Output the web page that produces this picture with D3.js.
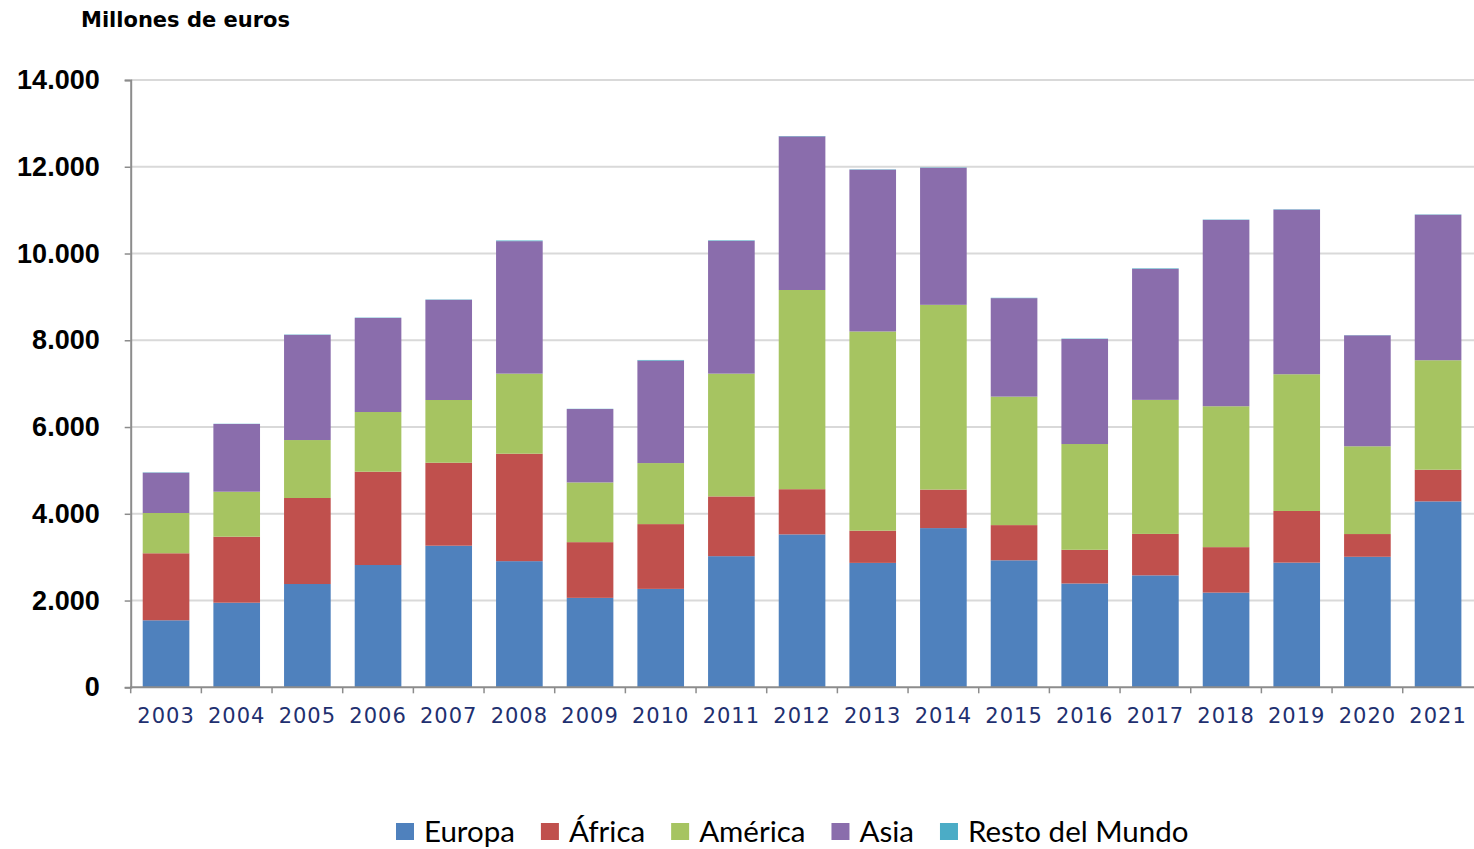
<!DOCTYPE html>
<html lang="es">
<head>
<meta charset="UTF-8">
<title>Millones de euros por región</title>
<script src="https://cdn.jsdelivr.net/npm/d3@7/dist/d3.min.js"></script>
<style>
  body { margin: 0; background: #fff; }
</style>
</head>
<body>
<script>
// data (millones de euros)
var years   = ["2003","2004","2005","2006","2007","2008","2009","2010","2011","2012",
               "2013","2014","2015","2016","2017","2018","2019","2020","2021"];
var europa  = [1545,1950,2381,2819,3264,2908,2062,2269,3023,3525,2868,3670,2928,2393,2581,2183,2874,3009,4286];
var africa  = [1545,1522,1983,2151,1913,2477,1284,1493,1377,1042, 743, 888, 811, 777, 955,1048,1191, 524, 730];
var america = [ 928,1037,1336,1376,1446,1846,1377,1407,2831,4592,4592,4259,2962,2438,3090,3248,3152,2023,2524];
var asia    = [ 929,1561,2424,2168,2309,3054,1692,2362,3061,3542,3730,3159,2270,2422,3020,4295,3795,2558,3353];
var resto   = [   8,   5,   8,   8,   8,  15,   5,  15,  12,   8,   8,   8,   8,   8,  12,   8,   8,   5,   8];
var seriesNames = ["Europa","África","América","Asia","Resto del Mundo"];
var yTicks = [0,2000,4000,6000,8000,10000,12000,14000];

var colors = ["#4f81bd","#c0504d","#a6c461","#8a6dac","#4bacc6"];
var keys = ["europa","africa","america","asia","resto"];

var rows = years.map(function(y, i) {
  return { year: y, europa: europa[i], africa: africa[i], america: america[i], asia: asia[i], resto: resto[i] };
});

var W = 1474, H = 849;
var svg = d3.select("body").append("svg")
  .attr("width", W).attr("height", H);

var x = d3.scaleBand()
  .domain(years)
  .range([130.7, 1473.4])
  .paddingInner(0.34)
  .paddingOuter(0.17);

var y = d3.scaleLinear()
  .domain([0, 14000])
  .range([687.3, 80]);

// gridlines
svg.append("g")
  .selectAll("line")
  .data(yTicks.slice(1))
  .enter().append("line")
  .attr("x1", 131).attr("x2", W)
  .attr("y1", function(d){ return y(d); })
  .attr("y2", function(d){ return y(d); })
  .attr("stroke", "#d9d9d9")
  .attr("stroke-width", 2);

// stacked bars
var stack = d3.stack().keys(keys)(rows);
svg.append("g")
  .selectAll("g")
  .data(stack)
  .enter().append("g")
  .attr("fill", function(d, i){ return colors[i]; })
  .selectAll("rect")
  .data(function(d){ return d; })
  .enter().append("rect")
  .attr("x", function(d){ return x(d.data.year); })
  .attr("width", x.bandwidth())
  .attr("y", function(d){ return y(d[1]); })
  .attr("height", function(d){ return y(d[0]) - y(d[1]); });

// y axis
var yAxis = d3.axisLeft(y)
  .tickValues(yTicks)
  .tickSize(6)
  .tickPadding(25)
  .tickFormat(function(d){ return d3.format(",")(d).replace(/,/g, "."); });

var gy = svg.append("g")
  .attr("transform", "translate(130.7,0)")
  .call(yAxis);
gy.select(".domain").attr("stroke", "#8c8c8c").attr("stroke-width", 2);
gy.selectAll(".tick line").attr("stroke", "#8c8c8c").attr("stroke-width", 1.5);
gy.selectAll(".tick text")
  .attr("fill", "#000")
  .style("font-family", "'Liberation Sans', Arial, sans-serif")
  .style("font-weight", "bold")
  .style("font-size", "27px");

// x axis line + ticks at band boundaries
var gx = svg.append("g");
gx.append("line")
  .attr("x1", 130).attr("x2", W)
  .attr("y1", y(0)).attr("y2", y(0))
  .attr("stroke", "#8c8c8c").attr("stroke-width", 2);
var bounds = d3.range(years.length).map(function(i){ return x.range()[0] + i * x.step(); });
gx.selectAll(".xt")
  .data(bounds)
  .enter().append("line")
  .attr("class", "xt")
  .attr("x1", function(d){ return d; }).attr("x2", function(d){ return d; })
  .attr("y1", y(0)).attr("y2", y(0) + 6)
  .attr("stroke", "#8c8c8c").attr("stroke-width", 1.5);
gx.selectAll(".xl")
  .data(years)
  .enter().append("text")
  .attr("class", "xl")
  .attr("x", function(d){ return x(d) + x.bandwidth() / 2; })
  .attr("y", 723)
  .attr("text-anchor", "middle")
  .attr("fill", "#1f3070")
  .style("font-family", "'DejaVu Sans', Verdana, sans-serif")
  .style("font-size", "21px")
  .style("letter-spacing", "1px")
  .text(function(d){ return d; });

// title
svg.append("text")
  .attr("x", 81).attr("y", 27)
  .style("font-family", "'DejaVu Sans', Verdana, sans-serif")
  .style("font-weight", "bold")
  .style("font-size", "21px")
  .attr("fill", "#000")
  .text("Millones de euros");

// legend
var leg = svg.append("g");
var lx = 396;
seriesNames.forEach(function(name, i) {
  leg.append("rect")
    .attr("x", lx).attr("y", 823)
    .attr("width", 18).attr("height", 17)
    .attr("fill", colors[i]);
  var t = leg.append("text")
    .attr("x", lx + 28).attr("y", 842)
    .style("font-family", "Lato, 'Open Sans', sans-serif")
    .style("font-size", "29.5px")
    .attr("fill", "#000")
    .text(name);
  lx += 28 + t.node().getComputedTextLength() + 26;
});
</script>
</body>
</html>
